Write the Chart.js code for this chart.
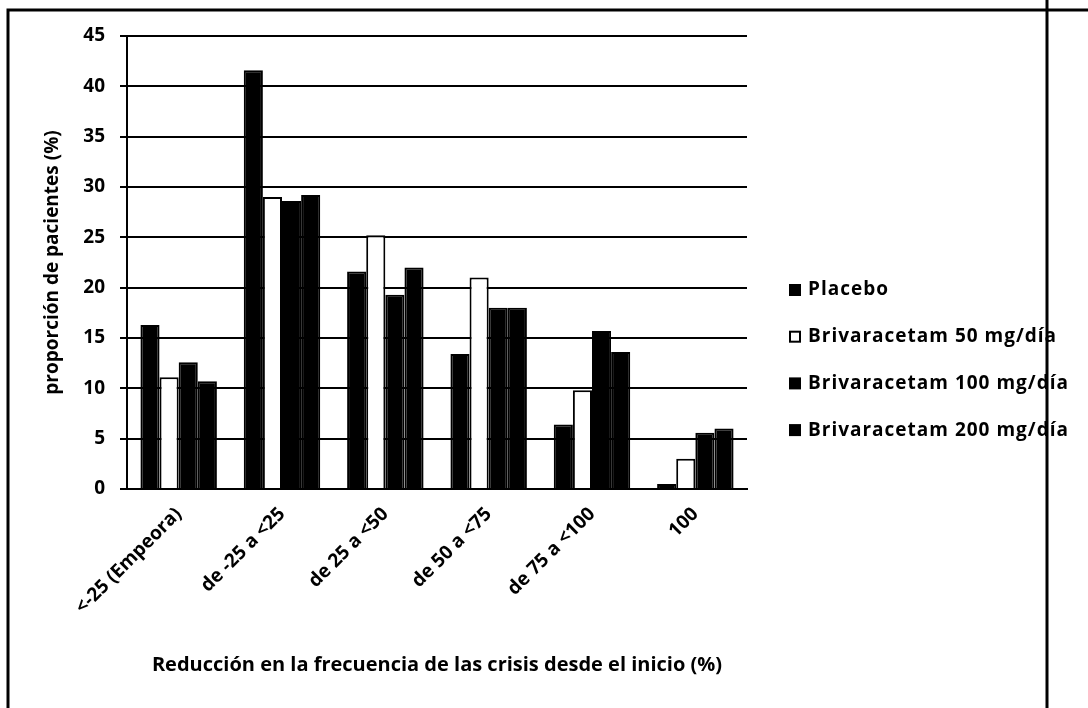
<!DOCTYPE html>
<html>
<head>
<meta charset="utf-8">
<script src="https://cdn.jsdelivr.net/npm/chart.js@4/dist/chart.umd.min.js"></script>
<style>
  html, body { margin: 0; padding: 0; background: #fff; }
  #wrap { width: 1088px; height: 708px; }
</style>
</head>
<body>
<div id="wrap"><canvas id="chart" width="1088" height="708"></canvas></div>
<script>
// categories + series
const categories = ['<-25 (Empeora)', 'de -25 a <25', 'de 25 a <50', 'de 50 a <75', 'de 75 a <100', '100'];
const placebo = [16.3, 41.6, 21.6, 13.4, 6.4, 0.5];
const briva50 = [11.1, 29.0, 25.2, 21.0, 9.8, 3.0];
const briva100 = [12.6, 28.6, 19.3, 18.0, 15.7, 5.6];
const briva200 = [10.7, 29.2, 22.0, 18.0, 13.6, 6.0];
const seriesNames = ['Placebo', 'Brivaracetam 50 mg/día', 'Brivaracetam 100 mg/día', 'Brivaracetam 200 mg/día'];
const yTicks = [0, 5, 10, 15, 20, 25, 30, 35, 40, 45];

const FONT = '"Open Sans", sans-serif';

// frame of the scanned page + legend on the right
const framePlugin = {
  id: 'frame',
  afterDraw(chart) {
    const ctx = chart.ctx;
    ctx.save();
    ctx.strokeStyle = '#000';
    ctx.lineWidth = 3;
    ctx.beginPath();
    ctx.moveTo(8, 708); ctx.lineTo(8, 10); ctx.lineTo(1088, 10);
    ctx.moveTo(1047, 0); ctx.lineTo(1047, 708);
    ctx.stroke();

    // legend
    ctx.font = 'bold 19px ' + FONT;
    ctx.letterSpacing = '1px';
    ctx.textBaseline = 'middle';
    chart.data.datasets.forEach((ds, i) => {
      const y = 290 + i * 46.7;
      ctx.fillStyle = ds.backgroundColor;
      ctx.fillRect(790, y - 5, 10, 10);
      ctx.lineWidth = 2;
      ctx.strokeStyle = '#000';
      ctx.strokeRect(790, y - 5, 10, 10);
      ctx.fillStyle = '#000';
      ctx.fillText(ds.label, 808, y);
    });
    ctx.restore();
  }
};

const mk = (label, data, fill) => ({
  label, data,
  backgroundColor: fill,
  borderColor: '#000',
  borderWidth: 2,
  categoryPercentage: 0.74,
  barPercentage: 1.0
});

new Chart(document.getElementById('chart'), {
  type: 'bar',
  data: {
    labels: categories,
    datasets: [
      mk(seriesNames[0], placebo, '#000'),
      mk(seriesNames[1], briva50, '#fff'),
      mk(seriesNames[2], briva100, '#000'),
      mk(seriesNames[3], briva200, '#000')
    ]
  },
  options: {
    responsive: false,
    animation: false,
    devicePixelRatio: 1,
    layout: { padding: { top: 36, right: 341, left: 0, bottom: 0 } },
    plugins: { legend: { display: false }, tooltip: { enabled: false } },
    scales: {
      x: {
        grid: { display: false, drawTicks: false },
        border: { display: true, color: '#000', width: 2 },
        ticks: {
          color: '#000', minRotation: 45, maxRotation: 45, padding: 14,
          font: { family: FONT, size: 19, weight: 'bold' }
        },
        title: {
          display: true, text: 'Reducción en la frecuencia de las crisis desde el inicio (%)',
          color: '#000', font: { family: FONT, size: 20, weight: 'bold' },
          padding: { top: 0, bottom: 31 }
        },
        afterFit(scale) { scale.height = 708 - 489; }
      },
      y: {
        min: 0, max: 45,
        afterBuildTicks(scale) { scale.ticks = yTicks.map(v => ({ value: v })); },
        grid: { color: '#000', lineWidth: 2, tickLength: 7 },
        border: { display: true, color: '#000', width: 2 },
        ticks: {
          color: '#000', padding: 15,
          font: { family: FONT, size: 19, weight: 'bold' }
        },
        title: {
          display: true, text: 'proporción de pacientes (%)',
          color: '#000', font: { family: FONT, size: 19, weight: 'bold' },
          padding: { top: 41, bottom: 0 }
        },
        afterFit(scale) { scale.width = 127; }
      }
    }
  },
  plugins: [framePlugin]
});
</script>
</body>
</html>
